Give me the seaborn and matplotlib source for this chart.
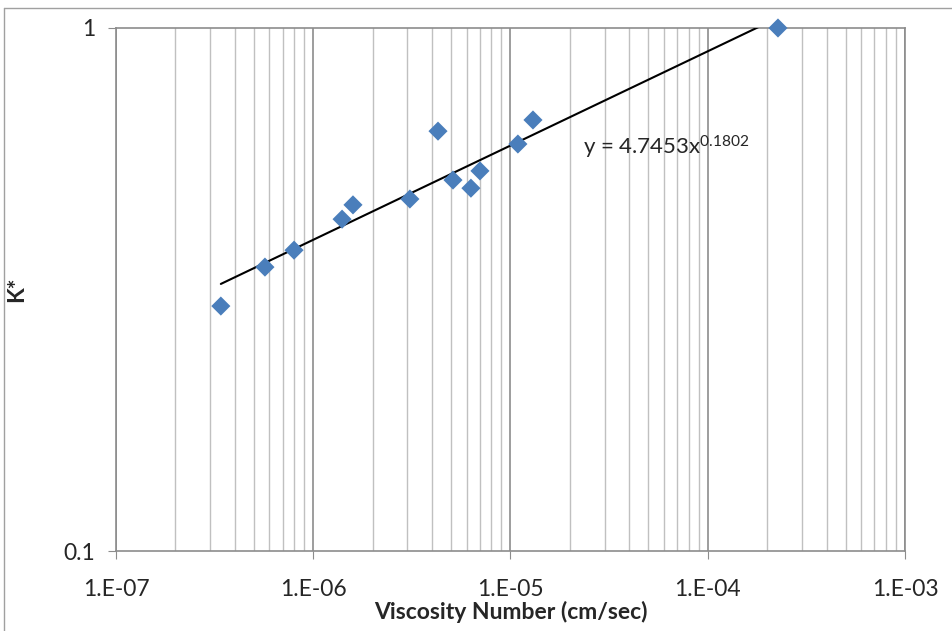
import numpy as np
import pandas as pd
import seaborn as sns
import matplotlib.pyplot as plt
from matplotlib.lines import Line2D
from matplotlib.ticker import LogLocator, FixedLocator, NullFormatter

# data
viscosity = [3.40e-7, 5.69e-7, 7.99e-7, 1.40e-6, 1.59e-6, 3.09e-6, 4.29e-6,
             5.11e-6, 6.30e-6, 7.00e-6, 1.09e-5, 1.30e-5, 2.27e-4]
k_star = [0.294, 0.349, 0.376, 0.431, 0.459, 0.471, 0.635,
          0.512, 0.494, 0.533, 0.600, 0.667, 1.0]
fit_a = 4.7453
fit_b = 0.1802
x_ticks = [1e-7, 1e-6, 1e-5, 1e-4, 1e-3]
x_ticklabels = ['1.E-07', '1.E-06', '1.E-05', '1.E-04', '1.E-03']
y_ticks = [0.1, 1]
y_ticklabels = ['0.1', '1']

df = pd.DataFrame({'x': viscosity, 'y': k_star})

sns.set_style('white')
plt.rcParams['font.family'] = ['Lato', 'DejaVu Sans']
plt.rcParams['mathtext.default'] = 'regular'

fig = plt.figure(figsize=(9.53, 6.31), dpi=100)
ax = fig.add_axes([116 / 953, 1 - 551 / 631, (905 - 116) / 953, (551 - 28) / 631])

# trendline (power fit shown on chart)
fx = np.array([min(viscosity), max(viscosity)])
fy = fit_a * fx ** fit_b
ax.plot(fx, fy, color='black', lw=1.5, zorder=3)

sns.scatterplot(data=df, x='x', y='y', marker='D', s=95, color='#4a7ebb',
                edgecolor='none', ax=ax, zorder=4, clip_on=False)

ax.set_xscale('log')
ax.set_yscale('log')
ax.set_xlim(1e-7, 1e-3)
ax.set_ylim(0.1, 1)

ax.xaxis.set_major_locator(FixedLocator(x_ticks))
ax.set_xticklabels(x_ticklabels)
ax.xaxis.set_minor_locator(LogLocator(base=10, subs=np.arange(2, 10)))
ax.xaxis.set_minor_formatter(NullFormatter())
ax.yaxis.set_major_locator(FixedLocator(y_ticks))
ax.set_yticklabels(y_ticklabels)
ax.yaxis.set_minor_locator(FixedLocator([]))

ax.grid(True, which='major', axis='x', color='#8c8c8c', lw=1.2)
ax.grid(True, which='minor', axis='x', color='#c0c0c0', lw=1.0)
ax.set_axisbelow(True)

for sp in ax.spines.values():
    sp.set_color('#8c8c8c')
    sp.set_linewidth(1.2)

ax.tick_params(axis='both', which='major', direction='out', length=6,
               color='#8c8c8c', labelsize=16.5, pad=9, left=True, bottom=True)
ax.tick_params(axis='x', which='major', pad=14)
ax.tick_params(axis='both', which='minor', length=0)

ax.set_xlabel('Viscosity Number (cm/sec)', fontsize=16.5, fontweight='bold', labelpad=1)
ax.set_ylabel('K*', fontsize=16.5, fontweight='bold', labelpad=0)
ax.yaxis.set_label_coords(-(116 - 27) / (905 - 116), 0.5)

ax.text(583, 631 - 147, r'y = 4.7453x$^{0.1802}$', transform=None, fontsize=16,
        va='center', ha='left')

# outer chart border
fig.add_artist(Line2D([4 / 953, 4 / 953], [0, 1 - 8 / 631], color='#a0a0a0', lw=1))
fig.add_artist(Line2D([4 / 953, 1], [1 - 8 / 631, 1 - 8 / 631], color='#a0a0a0', lw=1))

fig.savefig('out.png', dpi=100)
